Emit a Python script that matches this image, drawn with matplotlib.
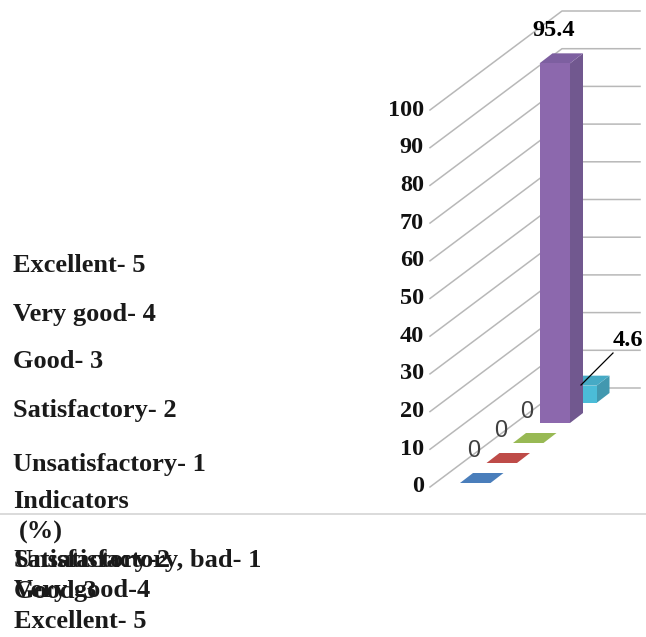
import matplotlib
matplotlib.use('Agg')
import matplotlib.pyplot as plt
from matplotlib.patches import Polygon

plt.rcParams['font.family'] = ['Liberation Serif', 'DejaVu Serif']

categories = ['Unsatisfactory, bad- 1', 'Satisfactory-2', 'Good-3', 'Very good-4', 'Excellent- 5']
values = [0, 0, 0, 95.4, 4.6]
value_labels = ['0', '0', '0', '95.4', '4.6']
ticks = [0, 10, 20, 30, 40, 50, 60, 70, 80, 90, 100]
legend_names = ['Excellent- 5', 'Very good- 4', 'Good- 3', 'Satisfactory- 2', 'Unsatisfactory- 1']
axis_title = ['Indicators', '(%)']

front = ['#4a7ebb', '#be4b48', '#98b954', '#8c68ad', '#4bbcd8']
side = ['#3f6ca3', '#a2403d', '#819e47', '#71588f', '#4298af']
top = ['#4a7ebb', '#be4b48', '#98b954', '#7d5fa0', '#46aac5']

# pixel layout of the fake 3d chart
unit = 3.77
wall_x0, wall_y0 = 430, 487
wall_x1, wall_y1 = 562, 388
wall_end = 640
bar_w, dep_x, dep_y = 30.5, 13, 10

fig = plt.figure(figsize=(6.46, 6.37), dpi=100)
ax = fig.add_axes([0, 0, 1, 1])
ax.set_xlim(0, 646)
ax.set_ylim(637, 0)
ax.axis('off')

grid = '#b8b8b8'
for t in ticks:
    h = t * unit
    ax.plot([wall_x0, wall_x1, wall_end], [wall_y0 - h, wall_y1 - h, wall_y1 - h],
            color=grid, lw=1.1, zorder=1)
    ax.text(424, wall_y0 - h, str(t), ha='right', va='center', fontsize=17.5,
            fontweight='bold', color='#111111')

for i, v in enumerate(values):
    x = 460 + 26.5 * i
    y = 483 - 20 * i
    h = v * unit
    z = 2 + (4 - i) if i < 4 else 2
    ax.add_patch(Polygon([(x + bar_w, y), (x + bar_w + dep_x, y - dep_y),
                          (x + bar_w + dep_x, y - dep_y - h), (x + bar_w, y - h)],
                         fc=side[i], ec='none', zorder=z))
    ax.add_patch(Polygon([(x, y - h), (x + bar_w, y - h),
                          (x + bar_w + dep_x, y - dep_y - h), (x + dep_x, y - dep_y - h)],
                         fc=top[i], ec='none', zorder=z))
    ax.add_patch(Polygon([(x, y), (x + bar_w, y), (x + bar_w, y - h), (x, y - h)],
                         fc=front[i], ec='none', zorder=z))

# data labels
zero_pos = [(474, 451), (501, 431), (527, 412)]
for (px, py), lab in zip(zero_pos, value_labels[:3]):
    ax.text(px, py, lab, ha='center', va='center', fontsize=17,
            family=['Liberation Sans'], color='#404040', zorder=9)
ax.text(554, 31, value_labels[3], ha='center', va='center', fontsize=17.5,
        fontweight='bold', color='black', zorder=9)
ax.text(628, 341, value_labels[4], ha='center', va='center', fontsize=17.5,
        fontweight='bold', color='black', zorder=9)
ax.plot([581, 613], [385, 353], color='black', lw=0.9, zorder=9)

# left hand text block
txt_size = 19
ax.plot([0, 646], [514, 514], color='#d4d4d4', lw=1.2, zorder=1)
legend_y = [265, 314, 361, 410, 464]
for name, y in zip(legend_names, legend_y):
    ax.text(13, y, name, ha='left', va='center', fontsize=txt_size, fontweight='bold', color='#1a1a1a')
ax.text(13, 501, axis_title[0], ha='left', va='center', fontsize=txt_size, fontweight='bold', color='#1a1a1a')
ax.text(19, 532, axis_title[1], ha='left', va='center', fontsize=txt_size, fontweight='bold', color='#1a1a1a')
cat_y = [561, 561, 591, 591, 622]
for name, y in zip(categories, cat_y):
    ax.text(14, y, name, ha='left', va='center', fontsize=txt_size, fontweight='bold', color='#1a1a1a')

fig.savefig('out.png', dpi=100)
